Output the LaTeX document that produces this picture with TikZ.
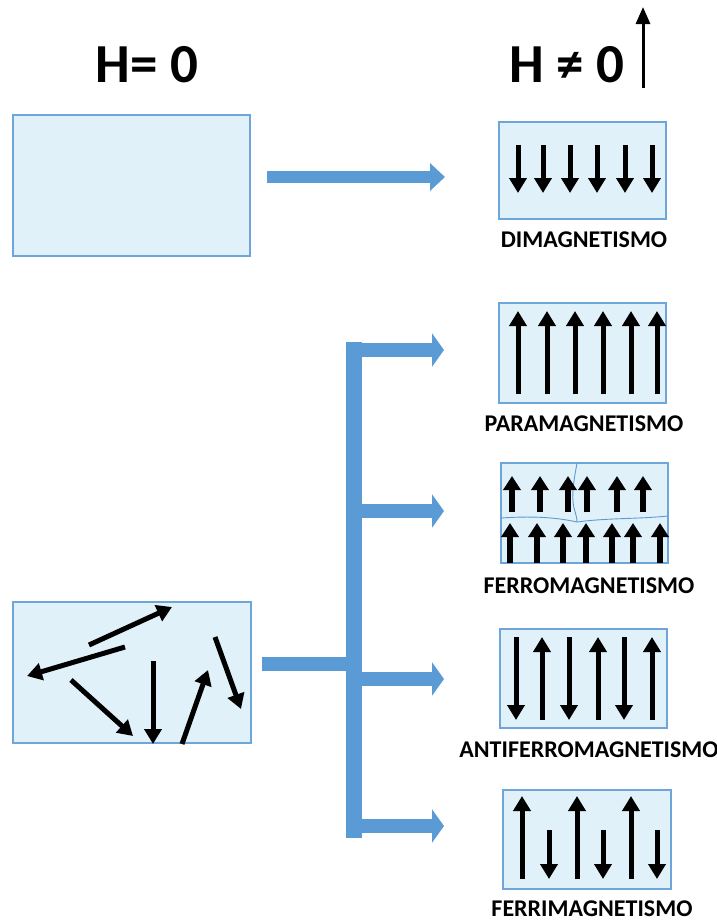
\documentclass[tikz,border=0pt]{standalone}
\usepackage{fontspec}
\setmainfont{Carlito}
\usetikzlibrary{arrows.meta}
\definecolor{boxfill}{HTML}{E0F1F9}
\definecolor{boxline}{HTML}{6FA6DA}
\definecolor{office}{HTML}{5B9BD5}
\tikzset{
  box/.style={draw=boxline, line width=1.3pt, fill=boxfill, inner sep=0pt},
  spin/.style={line width=5pt, -{Triangle[width=17pt,length=15pt]}},
  spinsmall/.style={line width=5.5pt, -{Triangle[width=17pt,length=14pt]}},
  blockarrow/.style={office, line width=14pt, -{Triangle[width=33pt,length=12pt]}},
  bar/.style={office, line width=16pt},
  lbl/.style={font=\bfseries\fontsize{24}{24}\selectfont, inner sep=0pt},
  hdr/.style={font=\bfseries\fontsize{55}{55}\selectfont, inner sep=0pt, anchor=base},
  wallline/.style={office, line width=0.9pt}
}
\begin{document}
\begin{tikzpicture}[x=1pt,y=-1pt]
\useasboundingbox (0,0) rectangle (717,922);
% headers
\node[hdr] (h0) at (147,82) {H= 0};
\node[hdr] (h1) at (567,82) {H ≠ 0};
\coordinate (fA) at (643,88);
\coordinate (fB) at (643,7);
\draw[line width=3pt, -{Triangle[width=14pt,length=17pt]}] (fA) -- (fB);

% left boxes
\node[box, minimum width=237pt, minimum height=141pt] (b0) at (131.5,185.5) {};
\node[box, minimum width=238pt, minimum height=141pt] (b1) at (132,672.5) {};
% random spins
\draw[spin] (89,645) -- (172,607);
\draw[spin] (125,647) -- (27,676);
\draw[spin] (71,680) -- (133,736);
\draw[spin] (153,661) -- (153,744);
\draw[spin] (182,744) -- (208,670);
\draw[spin] (215,637) -- (241,709);

% right boxes
\node[box, minimum width=167pt, minimum height=97pt] (dim) at (582.5,170.5) {};
\node[box, minimum width=167pt, minimum height=100pt] (para) at (582.5,353) {};
\node[box, minimum width=167pt, minimum height=100pt] (ferro) at (584.5,513) {};
\node[box, minimum width=167pt, minimum height=99pt] (anti) at (583.5,678.5) {};
\node[box, minimum width=168pt, minimum height=99pt] (ferri) at (587,839.5) {};

% labels
\node[lbl] (ldim) at (584,240) {DIMAGNETISMO};
\node[lbl] (lpara) at (584,424) {PARAMAGNETISMO};
\node[lbl] (lferro) at (589,586) {FERROMAGNETISMO};
\node[lbl] (lanti) at (589,750) {ANTIFERROMAGNETISMO};
\node[lbl] (lferri) at (592,909) {FERRIMAGNETISMO};

% dimagnetism spins
\foreach \x in {518,543,570,597,625,652}
  \draw[spin] (\x,145) -- (\x,193);
% paramagnetism spins
\foreach \x in {518,547,575,603,631,657}
  \draw[spin] (\x,394) -- (\x,311);
% ferromagnetism domains
\draw[wallline] (577,463) .. controls (574,480) and (571,495) .. (574,508) .. controls (576,515) and (577,518) .. (577,522);
\draw[wallline] (501,518) .. controls (530,516) and (555,517) .. (577,522);
\draw[wallline] (577,522) .. controls (605,518) and (640,519) .. (668,516);
\foreach \x in {512,540,568,587,617,643}
  \draw[spinsmall] (\x,512) -- (\x,476);
\foreach \x in {510,537,563,586,612,633,660}
  \draw[spinsmall] (\x,563) -- (\x,523);
% antiferromagnetism spins
\foreach \x in {516,569,624}
  \draw[spin] (\x,637) -- (\x,720);
\foreach \x in {542,598,652}
  \draw[spin] (\x,720) -- (\x,637);
% ferrimagnetism spins
\foreach \x in {522,577,631}
  \draw[spin] (\x,879) -- (\x,796);
\foreach \x in {549,603,657}
  \draw[spin] (\x,830) -- (\x,879);

% block arrows
\coordinate (t0) at (267,177);
\coordinate (t1) at (445,177);
\draw[office, line width=12pt, -{Triangle[width=27pt,length=15pt]}] (t0) -- (t1);
\coordinate (s0) at (262,664);
\coordinate (s1) at (347,664);
\draw[office, line width=14pt] (s0) -- (s1);
\coordinate (barT) at (354,342);
\coordinate (barB) at (354,838);
\draw[bar] (barT) -- (barB);
\coordinate (p0) at (362,350);
\coordinate (p1) at (444,350);
\coordinate (q0) at (362,511);
\coordinate (q1) at (444,511);
\coordinate (r0) at (362,679);
\coordinate (r1) at (444,679);
\coordinate (u0) at (362,826);
\coordinate (u1) at (444,826);
\draw[blockarrow] (p0) -- (p1);
\draw[blockarrow] (q0) -- (q1);
\draw[blockarrow] (r0) -- (r1);
\draw[blockarrow] (u0) -- (u1);
\end{tikzpicture}
\end{document}
